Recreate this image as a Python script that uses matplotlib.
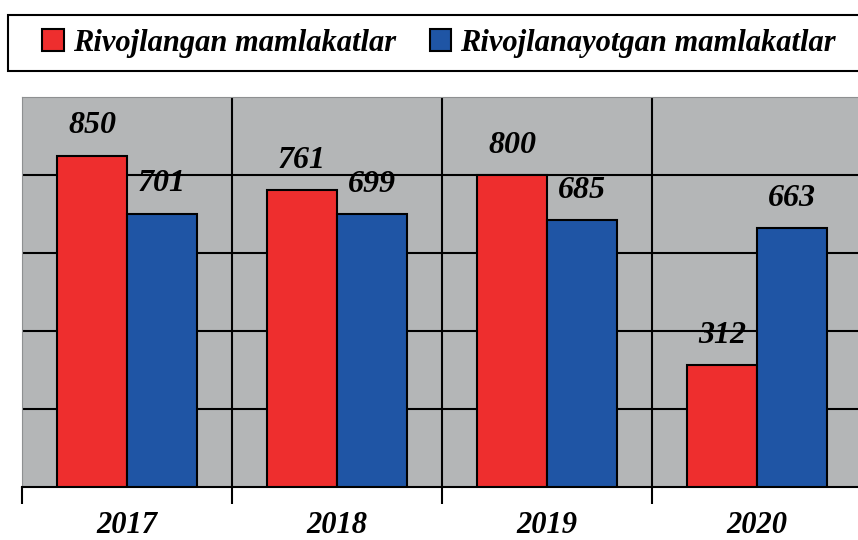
import numpy as np
import matplotlib.pyplot as plt
from matplotlib.patches import Rectangle

# ==========================================
# DADOS
# ==========================================
anos = ['2017', '2018', '2019', '2020']
rivojlangan = [850, 761, 800, 312]
rivojlanayotgan = [701, 699, 685, 663]
nomes_series = ['Rivojlangan mamlakatlar', 'Rivojlanayotgan mamlakatlar']

cor_vermelha = '#EE2E2E'
cor_azul = '#1F55A5'
cor_fundo = '#B4B6B7'
fonte = {'family': 'Liberation Serif', 'weight': 'bold', 'style': 'italic'}

# ==========================================
# FIGURA
# ==========================================
fig = plt.figure(figsize=(8.58, 5.4), dpi=100)
ax = fig.add_axes([22 / 858, 53 / 540, 840 / 858, 390 / 540])
ax.set_facecolor(cor_fundo)

x = np.arange(len(anos))
largura = 1 / 3

ax.bar(x - largura / 2, rivojlangan, largura, color=cor_vermelha,
       edgecolor='black', linewidth=1.5, zorder=3, label=nomes_series[0])
ax.bar(x + largura / 2, rivojlanayotgan, largura, color=cor_azul,
       edgecolor='black', linewidth=1.5, zorder=3, label=nomes_series[1])

# rótulos dos valores
for i in range(len(anos)):
    ax.annotate(str(rivojlangan[i]), xy=(x[i] - largura / 2, rivojlangan[i]),
                xytext=(0, 11), textcoords='offset points', ha='center',
                va='bottom', fontsize=23, **fonte)
    ax.annotate(str(rivojlanayotgan[i]), xy=(x[i] + largura / 2, rivojlanayotgan[i]),
                xytext=(0, 11), textcoords='offset points', ha='center',
                va='bottom', fontsize=23, **fonte)

# grade
for yv in [200, 400, 600, 800]:
    ax.axhline(yv, color='black', linewidth=1.5, zorder=1)
for xv in [0.5, 1.5, 2.5]:
    ax.axvline(xv, color='black', linewidth=1.5, zorder=1)

ax.set_xlim(-0.5, 3.5)
ax.set_ylim(0, 1000)
ax.set_yticks([])
ax.set_xticks(x)
ax.set_xticklabels(anos, fontsize=22, **fonte)
ax.tick_params(axis='x', which='major', length=0, pad=17)
ax.set_xticks([-0.5, 0.5, 1.5, 2.5, 3.5], minor=True)
ax.tick_params(axis='x', which='minor', length=12, width=1.5, direction='out')

for lado in ['top', 'left', 'right']:
    ax.spines[lado].set_color('#8E9091')
ax.spines['bottom'].set_color('black')
ax.spines['bottom'].set_linewidth(1.5)

# ==========================================
# LEGENDA
# ==========================================
fig.patches.append(Rectangle((8 / 858, 1 - 71 / 540), 1.0, 56 / 540,
                             transform=fig.transFigure, facecolor='white',
                             edgecolor='black', linewidth=1.5))
handles, labels = ax.get_legend_handles_labels()
fig.legend(handles, labels, loc='center left',
           bbox_to_anchor=(21 / 858, 1 - 43 / 540),
           ncol=2, frameon=False, handlelength=0.7, handleheight=0.7,
           handletextpad=0.3, columnspacing=1.1, borderpad=0.2,
           prop={'family': 'Liberation Serif', 'weight': 'bold',
                 'style': 'italic', 'size': 22})

fig.savefig('out.png', dpi=100)
